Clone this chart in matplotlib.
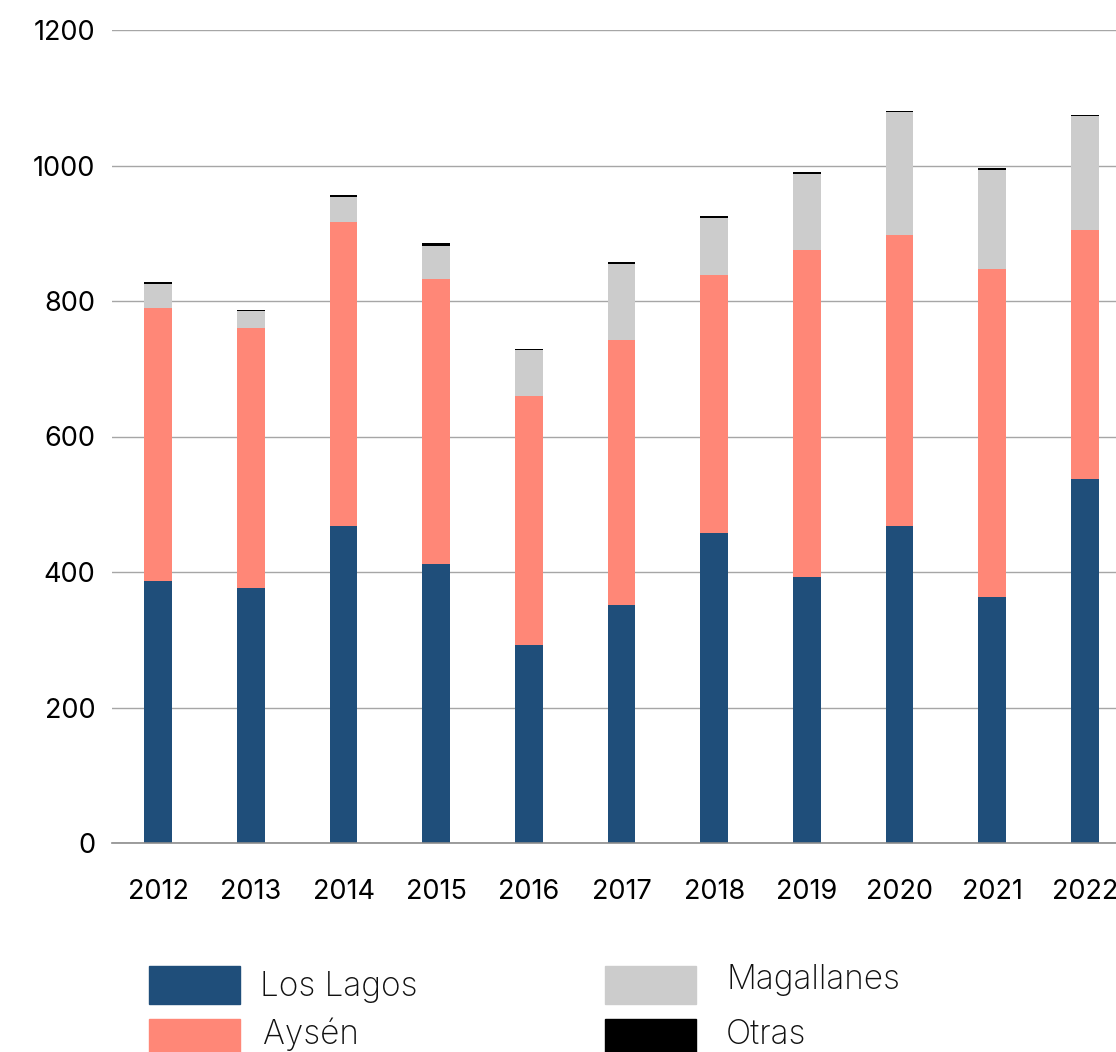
import matplotlib
matplotlib.use("Agg")
import matplotlib.pyplot as plt
from matplotlib.patches import Rectangle
import numpy as np

years = ["2012", "2013", "2014", "2015", "2016", "2017", "2018", "2019", "2020", "2021", "2022"]
los_lagos = [387, 376, 468, 412, 292, 351, 458, 393, 468, 363, 537]
aysen = [403, 384, 449, 420, 368, 391, 380, 482, 429, 484, 368]
magallanes = [35, 25, 37, 49, 67, 112, 85, 113, 182, 146, 168]
otras = [3, 2, 3, 4, 2, 3, 3, 3, 2, 3, 2]
series_names = ["Los Lagos", "Aysén", "Magallanes", "Otras"]
colors = ["#1F4E7A", "#FF8777", "#CCCCCC", "#000000"]
yticks = [0, 200, 400, 600, 800, 1000, 1200]

plt.rcParams['font.family'] = ['Inter', 'DejaVu Sans']

W, H = 1116, 1052
fig = plt.figure(figsize=(W / 100, H / 100), dpi=100)
left = 112 / W
right = 1131 / W
bottom = (H - 843) / H
top = (H - 30) / H
ax = fig.add_axes([left, bottom, right - left, top - bottom])

x = np.arange(len(years))
data = [los_lagos, aysen, magallanes, otras]
base = np.zeros(len(years))
for vals, c in zip(data, colors):
    ax.bar(x, vals, width=0.3, bottom=base, color=c, zorder=3)
    base = base + np.array(vals)

ax.set_xlim(-0.5, len(years) - 0.5)
ax.set_ylim(0, 1200)
ax.set_yticks(yticks)
ax.set_yticklabels([str(v) for v in yticks], fontsize=19.5)
ax.set_xticks(x)
ax.set_xticklabels(years, fontsize=19.5)
ax.tick_params(axis='y', length=0, pad=12)
ax.tick_params(axis='x', length=0, pad=26)
ax.grid(axis='y', color='#A6A6A6', linewidth=1.0, zorder=0)
for s in ['top', 'right', 'left']:
    ax.spines[s].set_visible(False)
ax.spines['bottom'].set_color('#8C8C8C')
ax.spines['bottom'].set_linewidth(1.2)
ax.spines['bottom'].set_zorder(4)

# legend drawn manually in figure pixel coordinates
leg = [
    (149, 966, 91, 38, 260, 987, 0),
    (149, 1019, 91, 33, 263, 1034, 1),
    (605, 966, 91, 38, 726, 980, 2),
    (605, 1019, 91, 33, 726, 1035, 3),
]
for (px, py, pw, ph, tx, ty, i) in leg:
    fig.add_artist(Rectangle((px / W, 1 - (py + ph) / H), pw / W, ph / H,
                             transform=fig.transFigure, color=colors[i]))
    fig.text(tx / W, 1 - ty / H, series_names[i], fontsize=24, fontweight='light',
             va='center', ha='left', color='#111111')

fig.savefig("out.png", dpi=100)
